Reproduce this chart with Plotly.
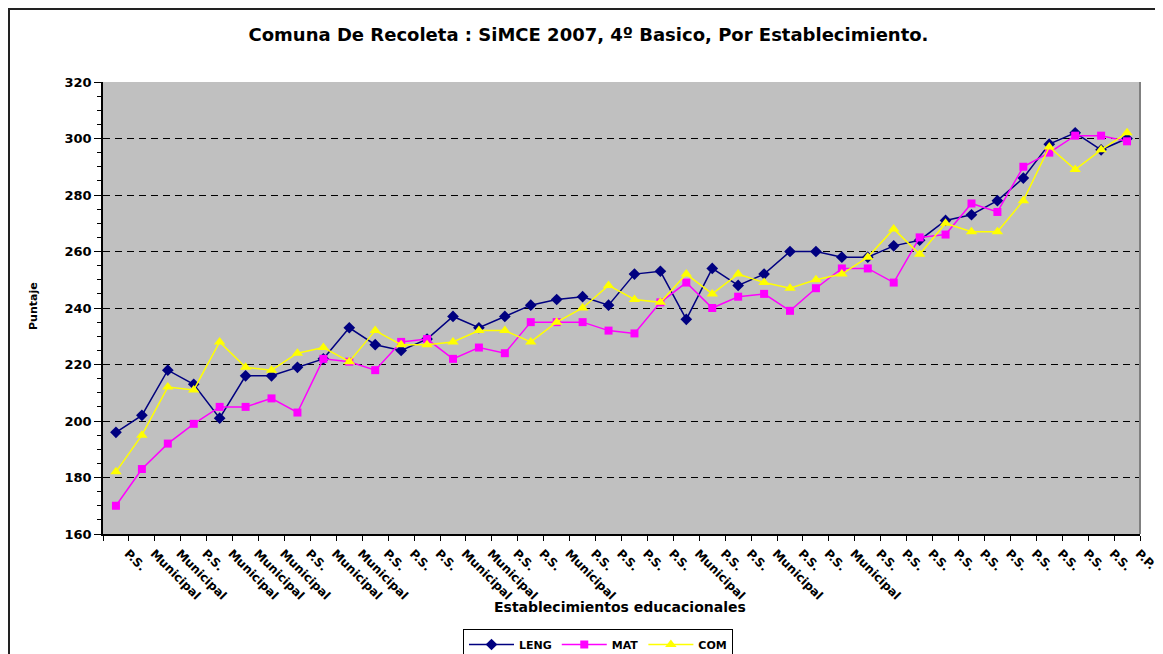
import plotly.graph_objects as go

# ---- data ----
categories = ["P.S.", "Municipal", "Municipal", "P.S.", "Municipal", "Municipal", "Municipal", "P.S.",
              "Municipal", "Municipal", "P.S.", "P.S.", "P.S.", "Municipal", "Municipal", "P.S.",
              "P.S.", "Municipal", "P.S.", "P.S.", "P.S.", "P.S.", "Municipal", "P.S.", "P.S.",
              "Municipal", "P.S.", "P.S.", "Municipal", "P.S.", "P.S.", "P.S.", "P.S.", "P.S.",
              "P.S.", "P.S.", "P.S.", "P.S.", "P.S.", "P.P."]

leng = [196, 202, 218, 213, 201, 216, 216, 219, 222, 233,
        227, 225, 229, 237, 233, 237, 241, 243, 244, 241,
        252, 253, 236, 254, 248, 252, 260, 260, 258, 258,
        262, 264, 271, 273, 278, 286, 298, 302, 296, 300]

mat = [170, 183, 192, 199, 205, 205, 208, 203, 222, 221,
       218, 228, 229, 222, 226, 224, 235, 235, 235, 232,
       231, 242, 249, 240, 244, 245, 239, 247, 254, 254,
       249, 265, 266, 277, 274, 290, 295, 301, 301, 299]

com = [182, 195, 212, 211, 228, 219, 218, 224, 226, 221,
       232, 227, 227, 228, 232, 232, 228, 235, 240, 248,
       243, 242, 252, 245, 252, 249, 247, 250, 252, 258,
       268, 259, 270, 267, 267, 278, 297, 289, 296, 302]

y_ticks = [160, 180, 200, 220, 240, 260, 280, 300, 320]

title_text = "Comuna De Recoleta : SiMCE 2007, 4º Basico, Por Establecimiento."
x_title = "Establecimientos educacionales"
y_title = "Puntaje"

# ---- figure (page body has an 8px margin, compensate) ----
OFF = 8
W, H = 1163 - OFF, 654 - OFF
L, T = 103 - OFF, 82 - OFF
R = W - (1140 - OFF)
B = H - (534 - OFF)
pw, ph = W - L - R, H - T - B

def px_x(p):  # page pixel -> paper x
    return (p - OFF - L) / pw

def px_y(p):  # page pixel -> paper y
    return (H - B - (p - OFF)) / ph

x = list(range(1, len(categories) + 1))
FONT = "DejaVu Sans"

fig = go.Figure()
fig.add_trace(go.Scatter(x=x, y=leng, name="LENG", mode="lines+markers",
                         line=dict(color="#000080", width=1.5),
                         marker=dict(symbol="diamond", size=9, color="#000080")))
fig.add_trace(go.Scatter(x=x, y=mat, name="MAT", mode="lines+markers",
                         line=dict(color="#FF00FF", width=1.5),
                         marker=dict(symbol="square", size=8, color="#FF00FF")))
fig.add_trace(go.Scatter(x=x, y=com, name="COM", mode="lines+markers",
                         line=dict(color="#FFFF00", width=1.5),
                         marker=dict(symbol="triangle-up", size=10, color="#FFFF00")))

fig.update_layout(
    width=W, height=H,
    margin=dict(l=L, r=R, t=T, b=B, autoexpand=False),
    paper_bgcolor="white",
    plot_bgcolor="#C0C0C0",
    font=dict(family=FONT, color="black", size=12, weight="bold"),
    title=dict(text=title_text, x=(588.5 - OFF) / W, xref="container", xanchor="center",
               y=1 - (35 - OFF) / H, yref="container", yanchor="middle",
               font=dict(family=FONT, size=18, weight="bold", color="black")),
    showlegend=True,
    legend=dict(orientation="h", x=px_x(598), xanchor="center", xref="paper",
                y=px_y(629), yanchor="top", yref="paper",
                bordercolor="black", borderwidth=1, bgcolor="white",
                font=dict(family=FONT, size=11, weight="bold"),
                itemwidth=45, tracegroupgap=0),
    xaxis=dict(range=[0.5, len(categories) + 0.5], tickmode="array", tickvals=x,
               ticktext=categories, tickangle=45, ticks="", showgrid=False,
               zeroline=False, showline=True, linecolor="black", linewidth=1.5,
               automargin=False, ticklabelstandoff=6, ticklabelshift=12,
               tickfont=dict(family=FONT, size=12, weight="bold"),
               minor=dict(tickmode="array", tickvals=[i + 0.5 for i in range(len(categories) + 1)],
                          ticks="outside", ticklen=5, tickcolor="black", tickwidth=1, showgrid=False)),
    yaxis=dict(range=[160, 320], tickmode="array", tickvals=y_ticks, ticks="outside",
               ticklen=7, tickcolor="black", tickwidth=1,
               showgrid=True, gridcolor="black", gridwidth=1, griddash="7px,5px",
               zeroline=False, showline=True, linecolor="black", linewidth=1.5,
               automargin=False,
               tickfont=dict(family=FONT, size=13, weight="bold"),
               minor=dict(dtick=5, ticks="outside", ticklen=4, tickcolor="black",
                          tickwidth=1, showgrid=False)),
)

# axis titles
fig.add_annotation(text=x_title, xref="paper", yref="paper", x=px_x(620), y=px_y(607),
                   xanchor="center", yanchor="middle", showarrow=False,
                   font=dict(family=FONT, size=14, weight="bold"))
fig.add_annotation(text=y_title, xref="paper", yref="paper", x=px_x(33), y=px_y(306),
                   xanchor="center", yanchor="middle", showarrow=False, textangle=-90,
                   font=dict(family=FONT, size=11, weight="bold"))

# plot-area right border (gray) and outer chart border
fig.add_shape(type="line", xref="paper", yref="paper", x0=1, x1=1, y0=0, y1=1,
              line=dict(color="#808080", width=2))
fig.add_shape(type="rect", xref="paper", yref="paper",
              x0=px_x(9), x1=px_x(1175), y0=px_y(665), y1=px_y(9),
              line=dict(color="#222222", width=2), layer="below")

fig.write_html("out.html")
